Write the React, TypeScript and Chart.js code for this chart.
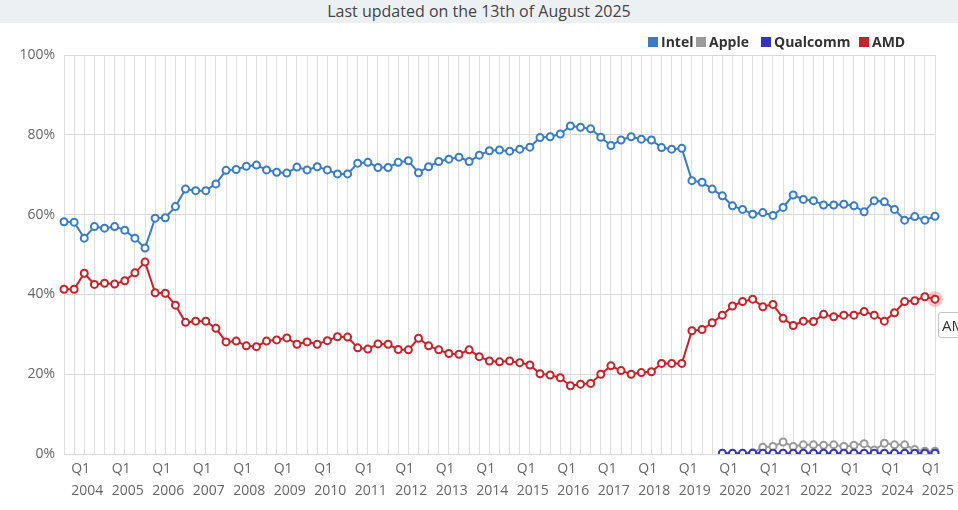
import React, { useEffect, useRef } from 'react';
import { Chart, registerables } from 'chart.js';

Chart.register(...registerables);

// Quarterly categories: Q4 2003 .. Q2 2025
const START_YEAR = 2003;
const START_Q = 3; // 0-based quarter index (Q4)
const N_POINTS = 87;
const quarters: string[] = [];
for (let i = 0; i < N_POINTS; i++) {
  const q = (START_Q + i) % 4;
  const y = START_YEAR + Math.floor((START_Q + i) / 4);
  quarters.push(`Q${q + 1} ${y}`);
}

const intel: (number | null)[] = [
  58.2, 58.1, 54.1, 57.0, 56.6, 57.0, 56.1, 54.1, 51.6, 59.1,
  59.2, 62.0, 66.4, 66.0, 66.0, 67.7, 71.1, 71.3, 72.1, 72.4,
  71.2, 70.6, 70.4, 71.9, 71.2, 72.0, 71.2, 70.2, 70.2, 72.9,
  73.1, 71.8, 71.8, 73.1, 73.5, 70.5, 72.0, 73.3, 73.9, 74.4,
  73.3, 74.9, 76.0, 76.2, 75.9, 76.4, 76.9, 79.3, 79.5, 80.2,
  82.2, 81.9, 81.5, 79.4, 77.3, 78.7, 79.5, 78.9, 78.7, 76.8,
  76.4, 76.6, 68.5, 68.1, 66.4, 64.7, 62.2, 61.3, 60.1, 60.5,
  59.8, 61.8, 64.9, 63.8, 63.5, 62.4, 62.4, 62.6, 62.2, 60.7,
  63.5, 63.2, 61.3, 58.6, 59.5, 58.6, 59.6,
];

const amd: (number | null)[] = [
  41.3, 41.3, 45.3, 42.5, 42.8, 42.6, 43.4, 45.4, 48.1, 40.4,
  40.3, 37.3, 33.0, 33.3, 33.3, 31.5, 28.1, 28.3, 27.1, 26.9,
  28.3, 28.6, 29.1, 27.5, 28.1, 27.5, 28.4, 29.4, 29.3, 26.6,
  26.3, 27.6, 27.5, 26.2, 26.1, 29.0, 27.1, 26.1, 25.2, 25.0,
  26.1, 24.4, 23.3, 23.1, 23.3, 22.9, 22.3, 20.1, 19.8, 19.1,
  17.1, 17.5, 17.7, 20.0, 22.1, 20.9, 20.0, 20.4, 20.6, 22.7,
  22.7, 22.7, 30.9, 31.2, 32.9, 34.8, 37.1, 38.2, 38.8, 36.9,
  37.5, 34.0, 32.2, 33.3, 33.2, 35.0, 34.4, 34.8, 34.8, 35.7,
  34.8, 33.3, 35.4, 38.2, 38.4, 39.4, 38.8,
];

const apple: (number | null)[] = [
  null, null, null, null, null, null, null, null, null, null,
  null, null, null, null, null, null, null, null, null, null,
  null, null, null, null, null, null, null, null, null, null,
  null, null, null, null, null, null, null, null, null, null,
  null, null, null, null, null, null, null, null, null, null,
  null, null, null, null, null, null, null, null, null, null,
  null, null, null, null, null, null, null, null, 0.3, 1.7,
  1.9, 3.0, 1.9, 2.3, 2.3, 2.2, 2.3, 1.9, 2.2, 2.6,
  1.0, 2.7, 2.3, 2.3, 1.1, 0.7, 0.7,
];

const qualcomm: (number | null)[] = [
  null, null, null, null, null, null, null, null, null, null,
  null, null, null, null, null, null, null, null, null, null,
  null, null, null, null, null, null, null, null, null, null,
  null, null, null, null, null, null, null, null, null, null,
  null, null, null, null, null, null, null, null, null, null,
  null, null, null, null, null, null, null, null, null, null,
  null, null, null, null, null, 0.2, 0.2, 0.2, 0.2, 0.2,
  0.2, 0.2, 0.2, 0.2, 0.2, 0.2, 0.2, 0.2, 0.2, 0.2,
  0.2, 0.2, 0.2, 0.2, 0.2, 0.2, 0.2,
];

const yTicks = [0, 20, 40, 60, 80, 100];

const SERIES = [
  { name: 'Intel', data: intel, color: '#3a7bc8', order: 1 },
  { name: 'Apple', data: apple, color: '#9a9a9a', order: 2 },
  { name: 'Qualcomm', data: qualcomm, color: '#3535bb', order: 0 },
  { name: 'AMD', data: amd, color: '#c9202a', order: 1 },
];

const TITLE = 'Last updated on the 13th of August 2025';

export default function App() {
  const ref = useRef<HTMLCanvasElement>(null);

  useEffect(() => {
    document.body.style.margin = '0';
    document.body.style.overflow = 'hidden';
    const canvas = ref.current;
    if (!canvas) return;

    const halo = {
      id: 'halo',
      beforeDatasetsDraw(chart: any) {
        const meta = chart.getDatasetMeta(3);
        const el = meta.data[meta.data.length - 1];
        if (!el) return;
        const c = chart.ctx;
        c.save();
        c.beginPath();
        c.arc(el.x, el.y, 8, 0, Math.PI * 2);
        c.fillStyle = 'rgba(204, 40, 50, 0.25)';
        c.fill();
        c.restore();
      },
    };

    const chart = new Chart(canvas, {
      type: 'line',
      data: {
        labels: quarters,
        datasets: SERIES.map((s) => ({
          label: s.name,
          data: s.data,
          borderColor: s.color,
          backgroundColor: '#ffffff',
          pointBackgroundColor: '#ffffff',
          pointBorderColor: s.color,
          pointBorderWidth: 2,
          pointRadius: 3.5,
          borderWidth: 2,
          tension: 0,
          fill: false,
          order: s.order,
          spanGaps: false,
        })),
      },
      options: {
        animation: false,
        responsive: true,
        maintainAspectRatio: false,
        events: [],
        layout: { padding: { top: 31, right: 23, bottom: 0, left: 0 } },
        plugins: {
          legend: { display: false },
          tooltip: { enabled: false },
          title: { display: false },
        },
        scales: {
          x: {
            grid: { color: '#dedede', drawTicks: false, lineWidth: 1 },
            border: { display: false },
            ticks: {
              autoSkip: false,
              maxRotation: 0,
              minRotation: 0,
              align: 'start',
              labelOffset: -3,
              padding: 4,
              color: '#666666',
              font: { family: 'Open Sans', size: 14, lineHeight: 1.57 },
              callback: (_v: any, i: number) => {
                const lab = quarters[i];
                if (!lab) return '';
                const [q, y] = lab.split(' ');
                return q === 'Q1' ? [q, y] : '';
              },
            },
            afterFit: (s: any) => {
              s.height = 56;
            },
          },
          y: {
            min: 0,
            max: 100,
            afterBuildTicks: (s: any) => {
              s.ticks = yTicks.map((v) => ({ value: v }));
            },
            ticks: {
              padding: 9,
              color: '#666666',
              font: { family: 'Open Sans', size: 14 },
              callback: (v: any) => `${v}%`,
            },
            grid: { color: '#d8d8d8', drawTicks: false },
            border: { display: false },
            afterFit: (s: any) => {
              s.width = 64;
            },
          },
        },
      },
      plugins: [halo],
    } as any);

    return () => chart.destroy();
  }, []);

  const legendItems = [
    { name: 'Intel', color: '#3a7bc8', left: 648 },
    { name: 'Apple', color: '#9a9a9a', left: 696 },
    { name: 'Qualcomm', color: '#3535bb', left: 761 },
    { name: 'AMD', color: '#c9202a', left: 859 },
  ];

  return (
    <div
      style={{
        position: 'relative',
        width: 958,
        height: 510,
        overflow: 'hidden',
        background: '#ffffff',
        fontFamily: 'Open Sans, sans-serif',
      }}
    >
      <div
        style={{
          position: 'absolute',
          left: 0,
          top: 0,
          width: 958,
          height: 23,
          background: '#edf0f3',
          textAlign: 'center',
          fontSize: 16,
          lineHeight: '23px',
          color: '#444444',
        }}
      >
        {TITLE}
      </div>
      <div style={{ position: 'absolute', left: 0, top: 24, width: 958, height: 486 }}>
        <canvas ref={ref} />
      </div>
      {legendItems.map((it) => (
        <div
          key={it.name}
          style={{
            position: 'absolute',
            left: it.left,
            top: 32,
            display: 'flex',
            alignItems: 'flex-start',
            fontSize: 14,
            fontWeight: 700,
            color: '#333333',
            whiteSpace: 'nowrap',
          }}
        >
          <span
            style={{
              display: 'inline-block',
              width: 10,
              height: 10,
              marginTop: 5,
              marginRight: 3,
              background: it.color,
            }}
          />
          <span>{it.name}</span>
        </div>
      ))}
      <div
        style={{
          position: 'absolute',
          left: 938,
          top: 312,
          height: 24,
          padding: '0 6px 0 3px',
          border: '1px solid #c4c4c4',
          borderRadius: 3,
          background: 'rgba(255,255,255,0.9)',
          fontSize: 15,
          lineHeight: '24px',
          color: '#333333',
          whiteSpace: 'nowrap',
        }}
      >
        AMD: 38.8%
      </div>
    </div>
  );
}
